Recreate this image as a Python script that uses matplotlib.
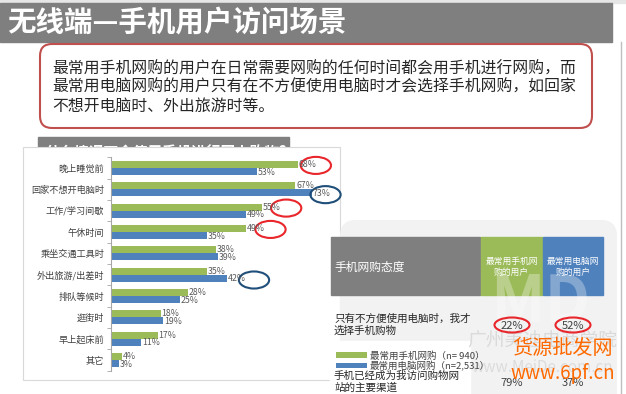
import numpy as np
import matplotlib.pyplot as plt
from matplotlib.patches import Rectangle, FancyBboxPatch, Ellipse

plt.rcParams['font.family'] = ['Noto Sans CJK SC', 'DejaVu Sans']

# ---- data ----
title = '无线端—手机用户访问场景'
intro_lines = ['最常用手机网购的用户在日常需要网购的任何时间都会用手机进行网购，而',
               '最常用电脑网购的用户只有在不方便使用电脑时才会选择手机网购，如回家',
               '不想开电脑时、外出旅游时等。']
chart_title = '什么情况下会使用手机进行网上购物?'
scenes = ['晚上睡觉前', '回家不想开电脑时', '工作/学习间歇', '午休时间', '乘坐交通工具时',
          '外出旅游/出差时', '排队等候时', '逛街时', '早上起床前', '其它']
mobile_pct = [68, 67, 55, 49, 38, 35, 28, 18, 17, 4]
pc_pct = [53, 73, 49, 35, 39, 42, 25, 19, 11, 3]
series_names = ['最常用手机网购（n= 940）', '最常用电脑网购（n=2,531）']

table_header = '手机网购态度'
col_headers = ['最常用手机网\n购的用户', '最常用电脑网\n购的用户']
attitudes = ['只有不方便使用电脑时，我才\n选择手机购物', '手机已经成为我访问购物网\n站的主要渠道']
attitude_mobile = [22, 79]
attitude_pc = [52, 37]

GREEN = '#9bbb59'
BLUE = '#4f81bd'
GRAY = '#7f7f7f'

fig = plt.figure(figsize=(6.26, 3.94), dpi=100)

# background layer in pixel coordinates
bg = fig.add_axes([0, 0, 1, 1])
bg.set_xlim(0, 626)
bg.set_ylim(394, 0)
bg.axis('off')
bg.set_zorder(0)

# title bar
bg.add_patch(Rectangle((0, 0), 626, 3, color='#e6e6e6', zorder=1))
bg.add_patch(Rectangle((0, 3), 612, 39, color=GRAY, zorder=1))
bg.text(7, 22, title, color='white', fontsize=20.5, fontweight='bold', va='center', ha='left', zorder=2)
bg.plot([621, 621], [42, 394], color='#bfbfbf', lw=1, zorder=1)

# intro box
bg.add_patch(FancyBboxPatch((40, 44), 552, 84, boxstyle='round,pad=0,rounding_size=12',
                            facecolor='white', edgecolor='#c0504d', lw=1.5, zorder=2))
for i, line in enumerate(intro_lines):
    bg.text(52, 69 + i * 18.5, line, fontsize=11.4, color='#262626', va='center', ha='left', zorder=3)

# chart title box (partly hidden behind chart)
bg.add_patch(Rectangle((38, 137), 251, 26, color=GRAY, zorder=2))
bg.text(46, 152, chart_title, color='white', fontsize=10.5, fontweight='bold', va='center', zorder=2.5)
bg.add_patch(Rectangle((23, 147), 317, 233, facecolor='white', edgecolor='#d9d9d9', lw=0.8, zorder=3))

# right panel with table
bg.add_patch(FancyBboxPatch((340, 220), 277, 200, boxstyle='round,pad=0,rounding_size=16',
                            facecolor='#f2f2f2', edgecolor='none', zorder=3.5))
bg.add_patch(Rectangle((331, 237), 149, 58, color=GRAY, zorder=4))
bg.add_patch(Rectangle((481, 237), 61, 58, color=GREEN, zorder=4))
bg.add_patch(Rectangle((543, 237), 60, 58, color=BLUE, zorder=4))
bg.text(334, 267, table_header, color='white', fontsize=8.5, va='center', zorder=5)
for cx, txt in zip([511.5, 573], col_headers):
    bg.text(cx, 267, txt, color='white', fontsize=6.3, ha='center', va='center', linespacing=1.3, zorder=5)
bg.add_patch(Rectangle((330, 341), 140, 60, color='white', zorder=4))

# watermark
bg.text(540, 303, 'MD', fontsize=46, fontweight='bold', color='white', alpha=0.3,
        ha='center', va='center', zorder=6)
bg.text(542, 340, '广州美迪电商学院', fontsize=13.5, color='#dadada', ha='center', va='center', zorder=6)
bg.text(542, 367, 'www.MeiDe.com.cn', fontsize=11, color='#dcdcdc', ha='center', va='center', zorder=6)

for i, (txt, vm, vp) in enumerate(zip(attitudes, attitude_mobile, attitude_pc)):
    yc = 325 + i * 57
    bg.text(334, yc, txt, fontsize=7.6, color='#262626', va='center', ha='left', linespacing=1.25, zorder=7)
    bg.text(512, yc + 1, f'{vm}%', fontsize=8, color='#404040', ha='center', va='center', zorder=7)
    bg.text(573, yc + 1, f'{vp}%', fontsize=8, color='#404040', ha='center', va='center', zorder=7)
for cx in [512, 573]:
    bg.add_patch(Ellipse((cx, 325), 35, 15, fill=False, edgecolor='#e8262b', lw=1.5, zorder=8))

bg.text(563, 348, '货源批发网', fontsize=14.5, color='#ff6a00', ha='center', va='center', zorder=9)
bg.text(563, 373, 'www.6pf.cn', fontsize=13.5, color='#ff6a00', ha='center', va='center',
        style='italic', zorder=9)

# bar chart
ax = fig.add_axes([111 / 626, 1 - 370.7 / 394, 220 / 626, 213.4 / 394])
ax.set_zorder(1)
ax.patch.set_alpha(0)
y = np.arange(len(scenes))
hb = 0.33
bars_m = ax.barh(y - 0.17, mobile_pct, height=hb, color=GREEN)
bars_p = ax.barh(y + 0.17, pc_pct, height=hb, color=BLUE)
for yi, v in zip(y, mobile_pct):
    ax.text(v + 0.3, yi - 0.17, f'{v}%', va='center', ha='left', fontsize=6.3, color='#595959')
for yi, v in zip(y, pc_pct):
    ax.text(v + 0.3, yi + 0.19, f'{v}%', va='center', ha='left', fontsize=6.3, color='#595959')
ax.set_xlim(0, 80)
ax.set_ylim(len(scenes) - 0.5, -0.5)
ax.set_yticks(y)
ax.set_yticklabels(scenes, fontsize=6.6, color='#404040')
ax.set_yticks(np.arange(len(scenes) + 1) - 0.5, minor=True)
ax.tick_params(axis='y', which='major', length=0, pad=5)
ax.tick_params(axis='y', which='minor', length=3, color='#a6a6a6')
ax.set_xticks([])
for s in ['top', 'right', 'bottom']:
    ax.spines[s].set_visible(False)
ax.spines['left'].set_color('#a6a6a6')
ax.spines['left'].set_linewidth(0.8)

# highlight circles: (category index, series, centre in % units)
highlights = [(0, 'm', 74.5, '#e8262b'), (1, 'p', 78, '#1f4e79'), (2, 'm', 63.7, '#e8262b'),
              (3, 'm', 58, '#e8262b'), (5, 'p', 52, '#1f4e79')]
for idx, s, cx, col in highlights:
    yo = idx - 0.12 if s == 'm' else idx + 0.25
    ax.add_patch(Ellipse((cx, yo), 11, 0.8, fill=False, edgecolor=col, lw=1.5, clip_on=False))

fig.legend(handles=[bars_m, bars_p], labels=series_names, loc='upper left',
           bbox_to_anchor=(331 / 626, 1 - 346 / 394), frameon=False, fontsize=6.8,
           handlelength=3.3, handleheight=0.5, labelspacing=0.05, borderpad=0,
           handletextpad=0.3, labelcolor='#404040')

fig.savefig('out.png', dpi=100)
